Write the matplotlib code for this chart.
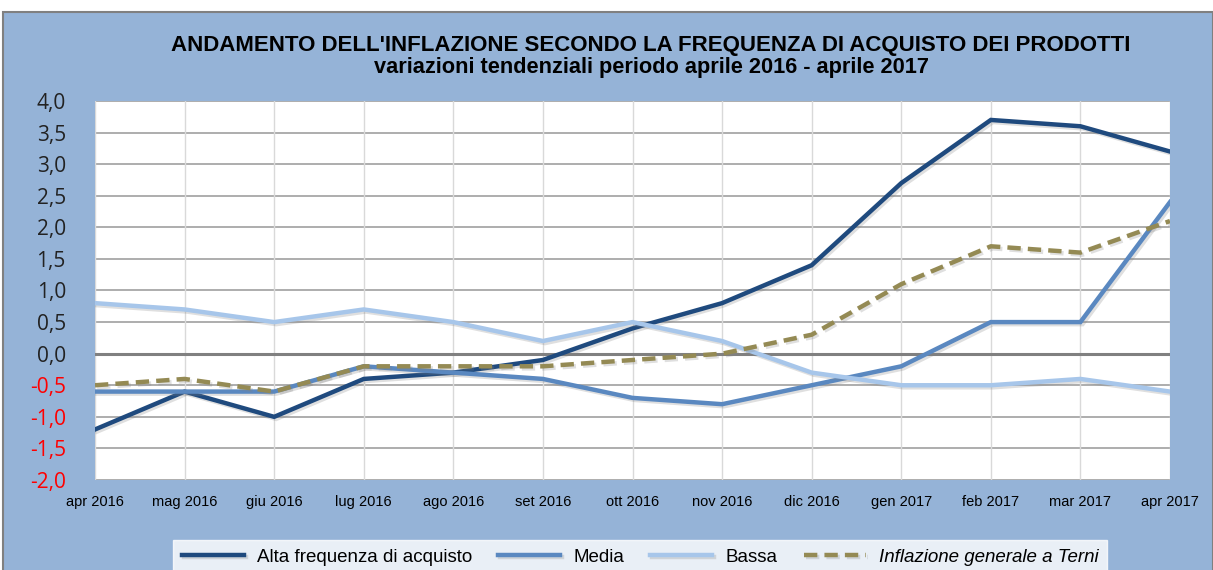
import matplotlib
matplotlib.use("Agg")
import matplotlib.pyplot as plt
from matplotlib.patches import Rectangle
import matplotlib.patheffects as pe

months = ["apr 2016", "mag 2016", "giu 2016", "lug 2016", "ago 2016", "set 2016",
          "ott 2016", "nov 2016", "dic 2016", "gen 2017", "feb 2017", "mar 2017", "apr 2017"]
alta = [-1.2, -0.6, -1.0, -0.4, -0.3, -0.1, 0.4, 0.8, 1.4, 2.7, 3.7, 3.6, 3.2]
media = [-0.6, -0.6, -0.6, -0.2, -0.3, -0.4, -0.7, -0.8, -0.5, -0.2, 0.5, 0.5, 2.4]
bassa = [0.8, 0.7, 0.5, 0.7, 0.5, 0.2, 0.5, 0.2, -0.3, -0.5, -0.5, -0.4, -0.6]
inflazione = [-0.5, -0.4, -0.6, -0.2, -0.2, -0.2, -0.1, 0.0, 0.3, 1.1, 1.7, 1.6, 2.1]
yticks = [-2.0, -1.5, -1.0, -0.5, 0.0, 0.5, 1.0, 1.5, 2.0, 2.5, 3.0, 3.5, 4.0]

plt.rcParams['font.family'] = ['Liberation Sans', 'DejaVu Sans']

W, H = 1213, 570
fig = plt.figure(figsize=(W / 100, H / 100), dpi=100)
fig.patch.set_facecolor("white")

panel_color = "#95B3D7"
fig.add_artist(Rectangle((3 / W, -0.01), (W - 3) / W, (H - 12) / H + 0.01, transform=fig.transFigure,
                         facecolor=panel_color, edgecolor="#808080", linewidth=1.5, zorder=0))

left, right, top, bottom = 95, 1170, 101, 480
ax = fig.add_axes([left / W, 1 - bottom / H, (right - left) / W, (bottom - top) / H])
ax.set_facecolor("white")
x = list(range(len(months)))

ax.set_xlim(0, len(months) - 1)
ax.set_ylim(-2, 4)
ax.set_yticks(yticks)
ax.set_yticklabels([f"{v:.1f}".replace(".", ",") for v in yticks], fontsize=15,
                   family=['Open Sans', 'DejaVu Sans'])
for lab, v in zip(ax.get_yticklabels(), yticks):
    lab.set_color("red" if v < 0 else "#222222")
ax.set_xticks(x)
ax.set_xticklabels(months, fontsize=10.5)
ax.tick_params(length=0)
ax.tick_params(axis='y', pad=21)
ax.tick_params(axis='x', pad=11)

for v in yticks:
    ax.axhline(v, color="#A0A0A0", lw=1.2, zorder=1)
for xi in x:
    ax.axvline(xi, color="#D9D9D9", lw=1, zorder=1)
ax.axhline(0, color="#808080", lw=2.2, zorder=1.5)
for s in ax.spines.values():
    s.set_visible(False)

shadow = [pe.SimpleLineShadow(offset=(1.5, -1.5), alpha=0.25, shadow_color="gray"), pe.Normal()]
ax.plot(x, alta, color="#1F4A7E", lw=3.2, label="Alta frequenza di acquisto", zorder=3,
        path_effects=shadow, solid_joinstyle="miter")
ax.plot(x, media, color="#5A88C0", lw=3.2, label="Media", zorder=3,
        path_effects=shadow, solid_joinstyle="miter")
ax.plot(x, bassa, color="#A7C6EA", lw=3.2, label="Bassa", zorder=3,
        path_effects=shadow, solid_joinstyle="miter")
ax.plot(x, inflazione, color="#948A54", lw=3.2, ls=(0, (3, 1.6)), label="Inflazione generale a Terni",
        zorder=3, path_effects=shadow)

fig.text(651 / W, 1 - 45 / H, "ANDAMENTO DELL'INFLAZIONE SECONDO LA FREQUENZA DI ACQUISTO DEI PRODOTTI",
         ha="center", va="center", fontsize=16, fontweight="bold", color="black")
fig.text(651 / W, 1 - 68 / H, "variazioni tendenziali periodo aprile 2016 - aprile 2017",
         ha="center", va="center", fontsize=15.7, fontweight="bold", color="black")

leg = fig.legend(loc="center", bbox_to_anchor=(640 / W, 1 - 557 / H), ncol=4, frameon=True,
                 fontsize=13.5, handlelength=3.3, columnspacing=1.4, handletextpad=0.7,
                 fancybox=False, borderpad=0.45)
leg.get_frame().set_edgecolor("white")
leg.get_frame().set_facecolor("white")
for t in leg.get_texts():
    if t.get_text().startswith("Inflazione"):
        t.set_style("italic")

fig.savefig("out.png", dpi=100, facecolor=fig.get_facecolor())
